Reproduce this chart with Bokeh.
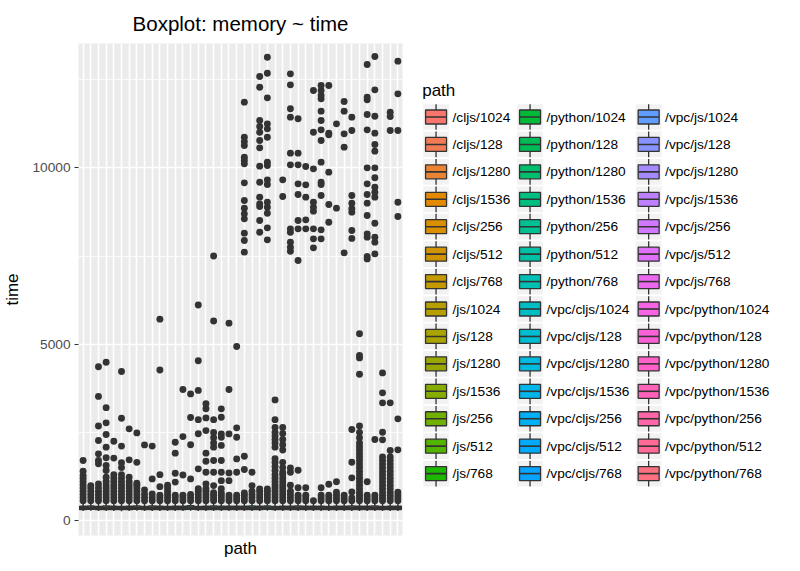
import math
from bokeh.plotting import figure
from bokeh.models import Range1d, FixedTicker, ColumnDataSource
from bokeh.layouts import row
from bokeh.core.properties import value
from bokeh.embed import file_html
from bokeh.resources import INLINE

FONT = "Liberation Sans"

# ---------------- data ----------------
paths = [
    "/cljs/1024", "/cljs/128", "/cljs/1280", "/cljs/1536", "/cljs/256", "/cljs/512", "/cljs/768",
    "/js/1024", "/js/128", "/js/1280", "/js/1536", "/js/256", "/js/512", "/js/768",
    "/python/1024", "/python/128", "/python/1280", "/python/1536", "/python/256", "/python/512", "/python/768",
    "/vpc/cljs/1024", "/vpc/cljs/128", "/vpc/cljs/1280", "/vpc/cljs/1536", "/vpc/cljs/256", "/vpc/cljs/512", "/vpc/cljs/768",
    "/vpc/js/1024", "/vpc/js/128", "/vpc/js/1280", "/vpc/js/1536", "/vpc/js/256", "/vpc/js/512", "/vpc/js/768",
    "/vpc/python/1024", "/vpc/python/128", "/vpc/python/1280", "/vpc/python/1536", "/vpc/python/256", "/vpc/python/512", "/vpc/python/768",
]

whisker_low = [270, 275, 268, 272, 270, 266, 271, 274, 269, 273, 270, 268, 272, 270,
               275, 268, 270, 272, 269, 271, 270, 268, 272, 270, 274, 268, 271, 270,
               273, 269, 272, 270, 268, 271, 270, 273, 269, 270, 272, 268, 270, 271]
q1 = [312, 318, 310, 315, 311, 309, 314, 316, 310, 315, 312, 310, 314, 311,
      318, 310, 312, 315, 311, 313, 312, 310, 314, 312, 316, 310, 313, 312,
      315, 311, 314, 312, 310, 313, 312, 315, 311, 312, 314, 310, 312, 313]
median = [352, 360, 348, 356, 350, 347, 354, 358, 349, 355, 352, 349, 353, 351,
          362, 349, 352, 356, 350, 354, 352, 350, 356, 352, 358, 349, 354, 352,
          356, 350, 355, 352, 349, 353, 352, 356, 350, 352, 355, 349, 352, 353]
q3 = [405, 415, 398, 410, 402, 396, 408, 412, 400, 409, 404, 399, 406, 403,
      418, 399, 404, 410, 401, 407, 404, 401, 409, 404, 413, 399, 407, 404,
      410, 401, 408, 404, 399, 406, 404, 410, 401, 404, 409, 399, 404, 406]
whisker_high = [540, 552, 530, 546, 536, 528, 543, 549, 533, 545, 538, 531, 541, 537,
                556, 531, 538, 546, 534, 542, 538, 534, 545, 538, 550, 531, 542, 538,
                546, 534, 544, 538, 531, 541, 538, 546, 534, 538, 545, 531, 538, 541]

outliers = [
    [560, 650, 740, 830, 920, 1010, 1100, 1190, 1280, 1400, 1700],
    [560, 650, 740, 830, 920, 990],
    [560, 650, 740, 830, 930, 1040, 1610, 1700, 1890, 2270, 2680, 3520, 4360],
    [560, 650, 740, 830, 920, 1010, 1110, 1230, 1420, 1560, 1780, 2080, 2440, 2770, 3200, 4490],
    [560, 650, 740, 830, 920, 1010, 1100, 1200, 1300, 1770, 2250],
    [560, 650, 740, 830, 920, 1010, 1100, 1200, 1300, 1500, 1640, 2110, 2900, 4225],
    [560, 650, 740, 830, 920, 1010, 1100, 1230, 1720, 2600],
    [560, 650, 740, 830, 920, 1000, 1060, 1650, 2485],
    [560, 650, 750, 870, 2145],
    [560, 650, 750, 1180, 2110],
    [560, 640, 720, 960, 1300, 4270, 5710],
    [560, 650, 740, 830, 920, 1000],
    [560, 650, 720, 1090, 1340, 1910, 2220],
    [560, 640, 720, 1290, 2380, 3715],
    [560, 650, 740, 1180, 2150, 2920, 3590],
    [560, 650, 740, 830, 900, 1465, 2460, 2860, 3690, 4530, 6110],
    [560, 650, 740, 830, 900, 1040, 1370, 1680, 1910, 2550, 2910, 3170, 3310],
    [560, 640, 720, 790, 990, 1370, 1700, 2080, 2200, 2350, 2495, 2860, 5660, 7500],
    [560, 640, 720, 790, 900, 1130, 1370, 1700, 2130, 2360, 2457, 2930, 3167],
    [560, 640, 720, 1130, 1350, 2457, 3715, 5597],
    [560, 640, 720, 1370, 1748, 2363, 2628, 4934],
    [560, 640, 720, 780, 1446, 1824, 7610, 7941, 8149, 8555, 8697, 8858, 9075, 9577,
     10115, 10210, 10304, 10635, 10746, 10871, 11864],
    [560, 650, 740, 830, 990, 1370],
    [560, 650, 740, 830, 893, 8177, 8508, 8906, 8981, 9170, 9595, 10049, 10569, 10777,
     11013, 11174, 11344, 12289, 12592],
    [560, 650, 740, 830, 893, 7960, 8300, 8716, 8886, 9028, 9529, 9661, 10068, 10163,
     10871, 11108, 11250, 11987, 12686, 13140],
    [560, 650, 740, 830, 920, 1010, 1100, 1200, 1300, 1420, 1530, 1650, 1750, 2080, 2200,
     2300, 2400, 2500, 2640, 2860, 3420],
    [560, 650, 740, 830, 920, 1010, 1100, 1200, 1300, 1370, 1500, 1650, 2000, 2150, 2300,
     2470, 2640, 9190, 9661],
    [560, 650, 740, 830, 1000, 1370, 1490, 7638, 7752, 7894, 8177, 8271, 10087, 10418,
     11439, 11676, 12355, 12667],
    [560, 640, 720, 930, 1427, 7373, 8271, 8508, 9246, 9548, 10087, 10418, 11392],
    [560, 640, 720, 930, 8271, 8527, 9170, 9520, 10040],
    [560, 7733, 7988, 8271, 8773, 8886, 9028, 9973, 11013, 12194],
    [560, 640, 720, 930, 7988, 8243, 9217, 9530, 9595, 10163, 10777, 11079, 11344, 11609,
     11958, 12053, 12194, 12336],
    [560, 640, 720, 1030, 8460, 8962, 9879, 10937, 10985, 12336],
    [560, 640, 720, 800, 1100, 8858, 11250],
    [560, 640, 720, 7591, 10588, 10966, 11609, 11882],
    [560, 640, 810, 1210, 1654, 2580, 8000, 8224, 8745, 8840, 9000, 9217, 11060, 11439],
    [560, 640, 720, 800, 900, 1000, 1100, 1200, 1300, 1400, 1500, 1600, 1700, 1800, 1900,
     2000, 2100, 2200, 2350, 2500, 2680, 4150, 4612, 4680, 5295],
    [560, 640, 720, 1100, 7420, 7486, 8036, 8130, 8650, 9000, 9246, 9548, 10002, 11079,
     11514, 11930, 12005, 12932],
    [560, 640, 720, 2297, 7562, 7894, 8036, 8432, 9170, 9312, 9454, 9720, 10002, 10475,
     10664, 10985, 11466, 12213, 13160],
    [560, 640, 720, 800, 900, 1000, 1100, 1200, 1300, 1400, 1500, 1600, 1700, 1800, 2287,
     2505, 3337, 3620, 4187],
    [560, 640, 720, 800, 900, 1000, 1100, 1200, 1300, 1400, 1500, 1600, 1700, 1800, 1985,
     3337, 11060, 11458, 11580],
    [560, 640, 720, 800, 2004, 2883, 8621, 9028, 11060, 12100, 13028],
]

y_ticks = [0, 5000, 10000]
y_minor = [2500, 7500, 12500]


# ---------------- ggplot hue palette ----------------
def hcl_hex(h, c=100.0, l=65.0):
    xn, yn, zn = 95.047, 100.0, 108.883
    un = 4 * xn / (xn + 15 * yn + 3 * zn)
    vn = 9 * yn / (xn + 15 * yn + 3 * zn)
    Y = yn * ((l + 16) / 116) ** 3 if l > 8 else yn * l / 903.3
    hr = math.radians(h)
    u, v = c * math.cos(hr), c * math.sin(hr)
    up = u / (13 * l) + un
    vp = v / (13 * l) + vn
    X = 9.0 * Y * up / (4 * vp)
    Z = -X / 3 - 5 * Y + 3 * Y / vp
    X, Y, Z = X / 100, Y / 100, Z / 100
    r = 3.240479 * X - 1.537150 * Y - 0.498535 * Z
    g = -0.969256 * X + 1.875992 * Y + 0.041556 * Z
    b = 0.055648 * X - 0.204043 * Y + 1.057311 * Z

    def gam(t):
        t = 1.055 * t ** (1 / 2.4) - 0.055 if t > 0.00304 else 12.92 * t
        return max(0, min(255, int(round(t * 255))))

    return "#%02X%02X%02X" % (gam(r), gam(g), gam(b))


n = len(paths)
colors = [hcl_hex(15 + i * 360.0 / n) for i in range(n)]
xs = list(range(1, n + 1))

TOP, FH, BOT = 43, 492, 28

# ---------------- main plot ----------------
p = figure(frame_width=324, frame_height=FH,
           x_range=Range1d(0.4, n + 0.6), y_range=Range1d(-425, 13528),
           toolbar_location=None, output_backend="svg",
           min_border_left=78, min_border_right=8, min_border_top=TOP, min_border_bottom=BOT,
           title="Boxplot: memory ~ time")
p.background_fill_color = "#EBEBEB"
p.border_fill_color = "white"
p.outline_line_color = None

p.title.text_font = FONT
p.title.text_font_size = "20.5px"
p.title.text_font_style = "normal"
p.title.text_color = "black"
p.title.align = "center"
p.title.standoff = 17

p.xaxis.ticker = FixedTicker(ticks=[])
p.xaxis.major_tick_line_color = None
p.xaxis.minor_tick_line_color = None
p.xaxis.major_tick_out = 0
p.xaxis.major_tick_in = 0
p.xaxis.axis_line_color = None
p.xaxis.axis_label = "path"
p.xaxis.axis_label_text_font = FONT
p.xaxis.axis_label_text_font_size = "17px"
p.xaxis.axis_label_text_font_style = "normal"
p.xaxis.axis_label_text_color = "black"
p.xaxis.axis_label_standoff = 3
p.xaxis.major_label_standoff = 0
p.xgrid.ticker = FixedTicker(ticks=xs)

p.yaxis.ticker = FixedTicker(ticks=y_ticks, minor_ticks=y_minor)
p.yaxis.axis_line_color = None
p.yaxis.major_tick_line_color = "#333333"
p.yaxis.major_tick_out = 4
p.yaxis.major_tick_in = 0
p.yaxis.minor_tick_line_color = None
p.yaxis.major_label_text_font = FONT
p.yaxis.major_label_text_font_size = "13.7px"
p.yaxis.major_label_text_color = "#4D4D4D"
p.yaxis.major_label_standoff = 4
p.yaxis.axis_label = "time"
p.yaxis.axis_label_text_font = FONT
p.yaxis.axis_label_text_font_size = "17px"
p.yaxis.axis_label_text_font_style = "normal"
p.yaxis.axis_label_text_color = "black"
p.yaxis.axis_label_standoff = 7

p.xgrid.grid_line_color = "white"
p.xgrid.grid_line_width = 1.6
p.ygrid.grid_line_color = "white"
p.ygrid.grid_line_width = 1.6
p.ygrid.minor_grid_line_color = "white"
p.ygrid.minor_grid_line_width = 0.8

# outlier points
ox, oy = [], []
for i, vals in enumerate(outliers):
    for v in vals:
        ox.append(xs[i])
        oy.append(v)
p.scatter(x=ox, y=oy, size=6.9, fill_color="#333333", line_color="#333333", line_width=0)

box_src = ColumnDataSource(dict(x=xs, lo=whisker_low, q1=q1, med=median, q3=q3, hi=whisker_high,
                                left=[x - 0.45 for x in xs], right=[x + 0.45 for x in xs],
                                color=colors))
p.segment(x0="x", y0="lo", x1="x", y1="hi", source=box_src, line_color="#333333", line_width=1.5)
p.quad(left="left", right="right", bottom="q1", top="q3", source=box_src,
       fill_color="color", line_color="#333333", line_width=1.5)
p.segment(x0="left", y0="med", x1="right", y1="med", source=box_src,
          line_color="#333333", line_width=2.5)

# ---------------- legend panel (page-pixel coordinates) ----------------
leg = figure(frame_width=382, frame_height=FH,
             x_range=Range1d(410, 792), y_range=Range1d(TOP + FH, TOP),
             toolbar_location=None, output_backend="svg",
             x_axis_location=None, y_axis_location=None,
             min_border_left=0, min_border_right=0, min_border_top=TOP, min_border_bottom=BOT)
leg.grid.visible = False
leg.outline_line_color = None
leg.background_fill_color = "white"
leg.border_fill_color = "white"

col_left = [422.7, 516.7, 635.3]
key = 25.7
row0 = 116.5
pitch = 27.43
per_col = 14

kx, ky, lx = [], [], []
for i in range(n):
    c, r = divmod(i, per_col)
    kx.append(col_left[c] + key / 2)
    ky.append(row0 + r * pitch)
    lx.append(col_left[c] + key + 3.6)

lsrc = ColumnDataSource(dict(kx=kx, ky=ky, lx=lx, label=paths, color=colors,
                             top=[y - key / 2 for y in ky], bot=[y + key / 2 for y in ky],
                             bl=[x - 10.5 for x in kx], br=[x + 10.5 for x in kx],
                             bt=[y - 7 for y in ky], bb=[y + 7 for y in ky]))
leg.rect(x="kx", y="ky", width=key, height=key, source=lsrc, fill_color="#F2F2F2", line_color=None)
leg.segment(x0="kx", y0="top", x1="kx", y1="bot", source=lsrc, line_color="#333333", line_width=1.3)
leg.quad(left="bl", right="br", top="bt", bottom="bb", source=lsrc, fill_color="color",
         line_color="#333333", line_width=1.3)
leg.segment(x0="bl", y0="ky", x1="br", y1="ky", source=lsrc, line_color="#333333", line_width=1.6)
leg.text(x="lx", y="ky", text="label", source=lsrc, text_font=value(FONT), text_font_size="13.7px",
         text_baseline="middle", text_align="left", text_color="black")
leg.text(x=[421.7], y=[90], text=["path"], text_font=value(FONT), text_font_size="17px",
         text_baseline="middle", text_align="left", text_color="black")

layout = row(p, leg)
open("out.html", "w").write(file_html(layout, INLINE))
